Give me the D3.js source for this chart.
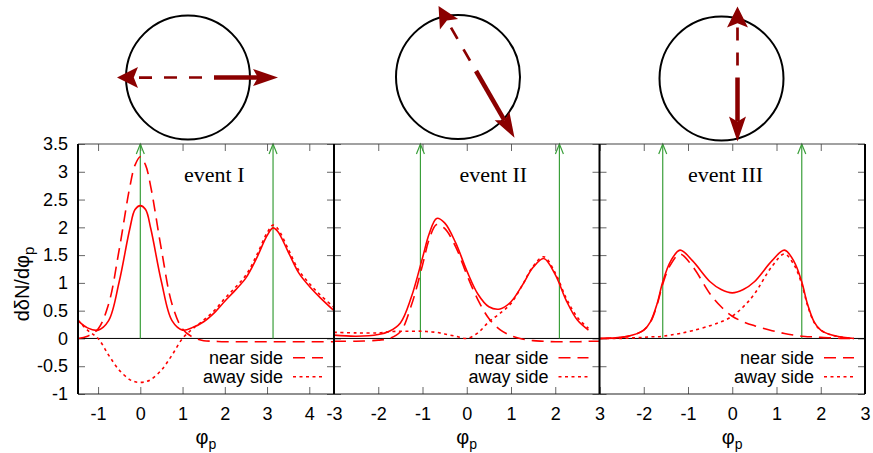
<!DOCTYPE html>
<html>
<head>
<meta charset="utf-8">
<script src="https://cdnjs.cloudflare.com/ajax/libs/d3/7.8.5/d3.min.js"></script>
<style>
body { margin: 0; background: #fff; }
svg { display: block; font-family: "Liberation Sans", Arial, sans-serif; }
.tick line { stroke: #666; stroke-width: 1; }
.tick text { font-size: 18px; fill: #000; font-family: "Liberation Sans", Arial, sans-serif; }
.curve { fill: none; stroke: #ff0000; stroke-width: 1.6; }
.legend { font-size: 18px; }
.event-label { font-family: "Liberation Serif", "Times New Roman", serif; font-size: 22px; }
</style>
</head>
<body>
<svg width="873" height="453"></svg>
<script>
var svg = d3.select('svg');

// panel I
var phi1 = [-1.475, -1.25, -1, -0.75, -0.5, -0.25, -0.125, 0, 0.125, 0.25, 0.5, 0.75, 1, 1.25, 1.5, 1.75, 2, 2.25, 2.5, 2.75, 3, 3.14, 3.25, 3.5, 3.75, 4, 4.25, 4.585];
var total1 = [0.32, 0.19, 0.15, 0.32, 1.02, 1.97, 2.32, 2.39, 2.32, 1.97, 1.02, 0.32, 0.15, 0.2, 0.3, 0.46, 0.67, 0.87, 1.09, 1.44, 1.85, 1.99, 1.93, 1.56, 1.18, 0.94, 0.74, 0.5];
var near1 = [0.0, 0.04, 0.17, 0.62, 1.6, 2.72, 3.12, 3.27, 3.12, 2.72, 1.6, 0.62, 0.17, 0.02, -0.04, -0.05, -0.06, -0.06, -0.06, -0.06, -0.06, -0.06, -0.06, -0.06, -0.06, -0.06, -0.06, -0.06];
var away1 = [0.33, 0.15, 0.0, -0.3, -0.57, -0.74, -0.78, -0.79, -0.78, -0.74, -0.57, -0.3, 0.0, 0.18, 0.33, 0.5, 0.72, 0.92, 1.14, 1.49, 1.9, 2.04, 1.98, 1.61, 1.23, 0.99, 0.79, 0.56];

// panel II
var phi2 = [-3, -2.5, -2, -1.75, -1.5, -1.25, -1, -0.85, -0.68, -0.5, -0.25, 0, 0.25, 0.5, 0.75, 1, 1.25, 1.5, 1.74, 2, 2.25, 2.5, 2.75, 3];
var total2 = [0.06, 0.04, 0.07, 0.13, 0.28, 0.75, 1.45, 1.88, 2.16, 2.08, 1.72, 1.22, 0.8, 0.57, 0.53, 0.66, 0.95, 1.28, 1.44, 1.15, 0.68, 0.33, 0.15, null];
var near2 = [-0.05, -0.05, -0.03, 0.0, 0.12, 0.6, 1.32, 1.78, 2.05, 1.98, 1.65, 1.15, 0.7, 0.36, 0.16, 0.05, -0.01, -0.04, -0.05, -0.06, -0.06, -0.06, -0.05, -0.05];
var away2 = [0.11, 0.1, 0.1, 0.12, 0.13, 0.13, 0.13, 0.12, 0.11, 0.08, 0.04, 0.0, 0.1, 0.3, 0.45, 0.63, 0.95, 1.3, 1.47, 1.18, 0.72, 0.38, 0.18, null];

// panel III
var phi3 = [-3, -2.5, -2.25, -2, -1.85, -1.7, -1.57, -1.4, -1.18, -0.9, -0.5, -0.25, 0, 0.25, 0.5, 0.9, 1.18, 1.4, 1.57, 1.7, 1.85, 2, 2.25, 2.5, 2.75];
var total3 = [0, 0.02, 0.06, 0.15, 0.3, 0.62, 1.02, 1.38, 1.59, 1.4, 1.02, 0.88, 0.82, 0.88, 1.02, 1.4, 1.59, 1.38, 1.02, 0.62, 0.3, 0.15, 0.06, 0.02, 0];
var near3 = [0, 0.02, 0.06, 0.15, 0.29, 0.6, 0.98, 1.32, 1.52, 1.3, 0.8, 0.57, 0.4, 0.3, 0.23, 0.14, 0.09, 0.06, 0.04, 0.03, 0.03, 0.02, 0.01, 0.0, 0];
var away3 = [0, 0.0, 0.01, 0.02, 0.03, 0.03, 0.04, 0.06, 0.09, 0.14, 0.23, 0.3, 0.4, 0.57, 0.8, 1.3, 1.52, 1.32, 0.98, 0.6, 0.29, 0.15, 0.06, 0.02, 0];

// jet directions (near side / away side), in radians
var nearJet = [0, -1.047, -1.571];
var awayJet = [3.142, 2.094, 1.571];
var eventNames = ['event I', 'event II', 'event III'];

var xTickValues = [[-1, 0, 1, 2, 3, 4], [-3, -2, -1, 0, 1, 2, 3], [-3, -2, -1, 0, 1, 2, 3]];
var xTickLabels = [[-1, 0, 1, 2, 3, 4], [-3, -2, -1, 0, 1, 2, 3], [-2, -1, 0, 1, 2, 3]];
var yTickValues = [-1, -0.5, 0, 0.5, 1, 1.5, 2, 2.5, 3, 3.5];

var panelRange = [[78, 334], [334, 599.5], [599.5, 865]];
var panelDomain = [[-1.475, 4.585], [-3, 3], [-3, 3]];
var eventLabelX = [1.75, 0.6, -0.15];

var phis = [phi1, phi2, phi3];
var totals = [total1, total2, total3];
var nears = [near1, near2, near3];
var aways = [away1, away2, away3];

var plotTop = 144, plotBottom = 394;
var yScale = d3.scaleLinear().domain([-1, 3.5]).range([plotBottom, plotTop]);
var green = '#3a9f3a';
var darkRed = '#8b0000';

panelRange.forEach(function(range, i) {
    var xScale = d3.scaleLinear().domain(panelDomain[i]).range(range);
    var g = svg.append('g').attr('class', 'panel');

    var line = d3.line()
        .defined(function(d) { return d[1] != null; })
        .x(function(d) { return xScale(d[0]); })
        .y(function(d) { return yScale(d[1]); })
        .curve(d3.curveCatmullRom.alpha(0.5));

    function pairs(ys) {
        return phis[i].map(function(p, k) { return [p, ys[k]]; });
    }

    // ticks (inward, mirrored)
    g.append('g')
        .attr('transform', 'translate(0,' + plotBottom + ')')
        .call(d3.axisBottom(xScale).tickValues(xTickValues[i]).tickSize(-7).tickPadding(13)
            .tickFormat(function(d) { return xTickLabels[i].indexOf(d) >= 0 ? d : ''; }));
    g.append('g')
        .attr('transform', 'translate(0,' + plotTop + ')')
        .call(d3.axisTop(xScale).tickValues(xTickValues[i]).tickSize(-7).tickFormat(''));
    g.append('g')
        .attr('transform', 'translate(' + range[0] + ',0)')
        .call(d3.axisLeft(yScale).tickValues(yTickValues).tickSize(-7).tickPadding(10)
            .tickFormat(i === 0 ? function(d) { return d; } : ''));
    g.append('g')
        .attr('transform', 'translate(' + range[1] + ',0)')
        .call(d3.axisRight(yScale).tickValues(yTickValues).tickSize(-7).tickFormat(''));
    g.selectAll('.domain').remove();
    g.selectAll('.tick text').attr('fill', '#000');

    // zero line
    g.append('line')
        .attr('x1', range[0]).attr('x2', range[1])
        .attr('y1', yScale(0)).attr('y2', yScale(0))
        .attr('stroke', '#000').attr('stroke-width', 1);

    // jet direction markers
    [nearJet[i], awayJet[i]].forEach(function(a) {
        var x = xScale(a);
        g.append('line')
            .attr('x1', x).attr('x2', x)
            .attr('y1', yScale(0)).attr('y2', yScale(3.5))
            .attr('stroke', green).attr('stroke-width', 1.2);
        g.append('path')
            .attr('d', 'M' + (x - 4) + ',' + (yScale(3.5) + 10) + 'L' + x + ',' + yScale(3.5) + 'L' + (x + 4) + ',' + (yScale(3.5) + 10))
            .attr('fill', 'none').attr('stroke', green).attr('stroke-width', 1.2);
    });

    // curves
    g.append('path').attr('class', 'curve').attr('d', line(pairs(nears[i])))
        .attr('stroke-dasharray', '12,7');
    g.append('path').attr('class', 'curve').attr('d', line(pairs(aways[i])))
        .attr('stroke-dasharray', '3,3.5');
    g.append('path').attr('class', 'curve').attr('d', line(pairs(totals[i])));

    // legend
    var legend = [['near side', '12,7'], ['away side', '3,3.5']];
    legend.forEach(function(l, k) {
        var ly = 357.7 + k * 19;
        g.append('text').attr('class', 'legend')
            .attr('x', range[1] - 51).attr('y', ly + 6.5)
            .attr('text-anchor', 'end').text(l[0]);
        g.append('line')
            .attr('x1', range[1] - 41).attr('x2', range[1] - 11)
            .attr('y1', ly).attr('y2', ly)
            .attr('stroke', '#ff0000').attr('stroke-width', 1.6)
            .attr('stroke-dasharray', l[1]);
    });

    // event label
    g.append('text').attr('class', 'event-label')
        .attr('x', xScale(eventLabelX[i])).attr('y', 182)
        .attr('text-anchor', 'middle').text(eventNames[i]);

    // x label
    var xl = g.append('text')
        .attr('x', (range[0] + range[1]) / 2).attr('y', 444)
        .attr('text-anchor', 'middle').attr('font-size', '20px');
    xl.append('tspan').text('\u03c6');
    xl.append('tspan').attr('font-size', '14px').attr('dy', 5).text('p');
});

// frame
svg.append('line').attr('x1', 78).attr('x2', 865).attr('y1', plotTop).attr('y2', plotTop)
    .attr('stroke', '#444').attr('stroke-width', 1.2);
svg.append('line').attr('x1', 78).attr('x2', 865).attr('y1', plotBottom).attr('y2', plotBottom)
    .attr('stroke', '#222').attr('stroke-width', 1.2);
[78, 334, 599.5, 865].forEach(function(x) {
    svg.append('line').attr('x1', x).attr('x2', x).attr('y1', plotTop).attr('y2', plotBottom)
        .attr('stroke', '#000').attr('stroke-width', 2);
});

// y label
var yl = svg.append('text')
    .attr('transform', 'translate(28.5,284) rotate(-90)')
    .attr('text-anchor', 'middle').attr('font-size', '20px');
yl.append('tspan').text('d\u03b4N/d\u03c6');
yl.append('tspan').attr('font-size', '15px').attr('dy', 5).text('p');

// sketches of the two jets above each panel
var ringCenter = [[188, 77.5], [458, 77], [721.5, 78.5]];
var ringR = 62;
var jetOrigin = [[26, 0], [18, -6], [16, -1]];
var nearLen = [64, 77, 64];
var awayLen = [97, 75, 71];

function arrowHead(tx, ty, ux, uy, len, hw) {
    var bx = tx - ux * len, by = ty - uy * len;
    var nx = tx - ux * len * 0.8, ny = ty - uy * len * 0.8;
    return 'M' + tx + ',' + ty +
        'L' + (bx - uy * hw) + ',' + (by + ux * hw) +
        'L' + nx + ',' + ny +
        'L' + (bx + uy * hw) + ',' + (by - ux * hw) + 'Z';
}

ringCenter.forEach(function(c, i) {
    svg.append('circle')
        .attr('cx', c[0]).attr('cy', c[1]).attr('r', ringR)
        .attr('fill', 'none').attr('stroke', '#000').attr('stroke-width', 2);

    var ox = c[0] + jetOrigin[i][0], oy = c[1] + jetOrigin[i][1];

    // near side jet: solid
    var ux = Math.cos(nearJet[i]), uy = -Math.sin(nearJet[i]);
    var tx = ox + ux * nearLen[i], ty = oy + uy * nearLen[i];
    svg.append('line')
        .attr('x1', ox).attr('y1', oy)
        .attr('x2', tx - ux * 20).attr('y2', ty - uy * 20)
        .attr('stroke', darkRed).attr('stroke-width', 4.5);
    svg.append('path').attr('d', arrowHead(tx, ty, ux, uy, 25, 8.5)).attr('fill', darkRed);

    // away side jet: dashed
    var vx = Math.cos(awayJet[i]), vy = -Math.sin(awayJet[i]);
    var sx = ox + vx * awayLen[i], sy = oy + vy * awayLen[i];
    svg.append('line')
        .attr('x1', ox).attr('y1', oy)
        .attr('x2', sx - vx * 15).attr('y2', sy - vy * 15)
        .attr('stroke', darkRed).attr('stroke-width', 2.7)
        .attr('stroke-dasharray', '13,12').attr('stroke-dashoffset', 13);
    svg.append('path').attr('d', arrowHead(sx, sy, vx, vy, 21, 10.5)).attr('fill', darkRed);
});
</script>
</body>
</html>
